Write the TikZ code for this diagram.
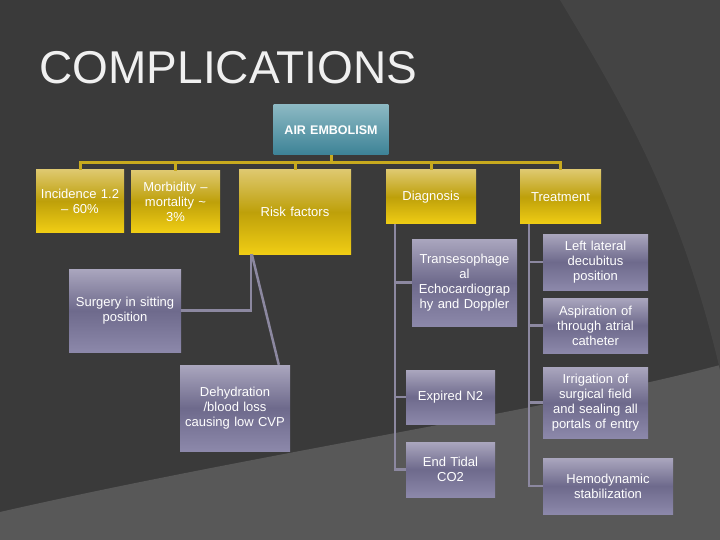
\documentclass[tikz,border=0pt]{standalone}
\usepackage{fontspec}
\setmainfont{Liberation Sans}
\definecolor{gtop}{RGB}{222,200,110}
\definecolor{gmid}{RGB}{190,160,10}
\definecolor{gbot}{RGB}{240,205,20}
\definecolor{ltop}{RGB}{170,166,190}
\definecolor{lmid}{RGB}{110,106,140}
\definecolor{lbot}{RGB}{140,136,170}
\begin{document}
\begin{tikzpicture}[x=1pt,y=-1pt,font=\fontsize{13}{15}\selectfont,
  gold/.style={draw=none,top color=gtop,bottom color=gbot,middle color=gmid,text=white,align=center,inner sep=1pt},
  lav/.style={draw=none,top color=ltop,bottom color=lbot,middle color=lmid,text=white,align=center,inner sep=1pt},
  teal/.style={draw=none,top color={rgb,255:red,140;green,185;blue,195},bottom color={rgb,255:red,60;green,130;blue,150},text=white,align=center,font=\fontsize{12.5}{14}\selectfont\bfseries},
  gl/.style={draw={rgb,255:red,200;green,170;blue,30},line width=3pt},
  pl/.style={draw={rgb,255:red,140;green,136;blue,160},line width=2.5pt}]
\fill[fill={rgb,255:red,58;green,58;blue,58}] (0,0) rectangle (720,540);
\useasboundingbox (0,0) rectangle (720,540);
\fill[fill={rgb,255:red,88;green,88;blue,88}] (0,540) -- (0,512) .. controls (250,455) and (550,410) .. (720,365) -- (720,540) -- cycle;
\fill[fill={rgb,255:red,68;green,68;blue,68}] (560,0) .. controls (620,100) and (680,200) .. (720,370) -- (720,0) -- cycle;
\node[text={rgb,255:red,240;green,240;blue,240},anchor=west,font=\fontsize{46}{50}\selectfont] (title) at (36,68) {COMPLICATIONS};
\newcommand{\bx}[5]{\node[#1,minimum width=#4-#2,minimum height=#5-#3,text width=#4-#2-2] at ({(#2+#4)/2},{(#3+#5)/2})}
\bx{teal}{276}{105}{386}{155} (air) {AIR EMBOLISM};
\bx{gold}{36}{170}{124}{232} (inc) {Incidence 1.2\\-- 60\%\\[12pt]};
\bx{gold}{131}{171}{220}{232} (mor) {Morbidity --\\mortality \textasciitilde\\3\%\\[6pt]};
\bx{gold}{239}{170}{351}{254} (risk) {Risk factors};
\bx{gold}{386}{170}{476}{224} (dia) {Diagnosis\\[8pt]};
\bx{gold}{520}{170}{601}{224} (tre) {Treatment\\[8pt]};
\bx{lav}{69}{269}{181}{352} (sur) {Surgery in sitting\\position};
\bx{lav}{180}{365}{290}{451} (deh) {Dehydration\\/blood loss\\causing low CVP\\[6pt]};
\bx{lav}{412}{239}{517}{326} (tee) {Transesophage\\al\\Echocardiograp\\hy and Doppler\\[8pt]};
\bx{lav}{406}{370}{495}{424} (n2) {Expired N2};
\bx{lav}{406}{442}{495}{497} (co2) {End Tidal\\CO2\\[12pt]};
\bx{lav}{543}{234}{648}{290} (llat) {Left lateral\\decubitus\\position};
\bx{lav}{543}{298}{648}{353} (asp) {Aspiration of\\through atrial\\catheter};
\bx{lav}{543}{367}{648}{438} (irr) {Irrigation of\\surgical field\\and sealing all\\portals of entry};
\bx{lav}{543}{458}{673}{514} (hem) {Hemodynamic\\stabilization};
% gold connectors
\draw[gl] (air.south) -- ++(0,7);
\draw[gl] (inc.north) -- ++(0,-7) -| (tre.north);
\draw[gl] (mor.north) -- ++(0,-7);
\draw[gl] (risk.north) -- ++(0,-7);
\draw[gl] (dia.north) -- ++(0,-7);
% lavender connectors
\draw[pl] ([xshift=12pt]risk.south west) |- (sur.east);
\draw[pl] ([xshift=13pt]risk.south west) -- ([xshift=99pt]deh.north west);
\draw[pl] ([xshift=9pt]dia.south west) |- (co2.west);
\draw[pl] ([xshift=9pt]dia.south west) |- (tee.west);
\draw[pl] ([xshift=9pt]dia.south west) |- (n2.west);
\draw[pl] ([xshift=9pt]tre.south west) |- (hem.west);
\draw[pl] ([xshift=9pt]tre.south west) |- (llat.west);
\draw[pl] ([xshift=9pt]tre.south west) |- (asp.west);
\draw[pl] ([xshift=9pt]tre.south west) |- (irr.west);
\end{tikzpicture}
\end{document}
